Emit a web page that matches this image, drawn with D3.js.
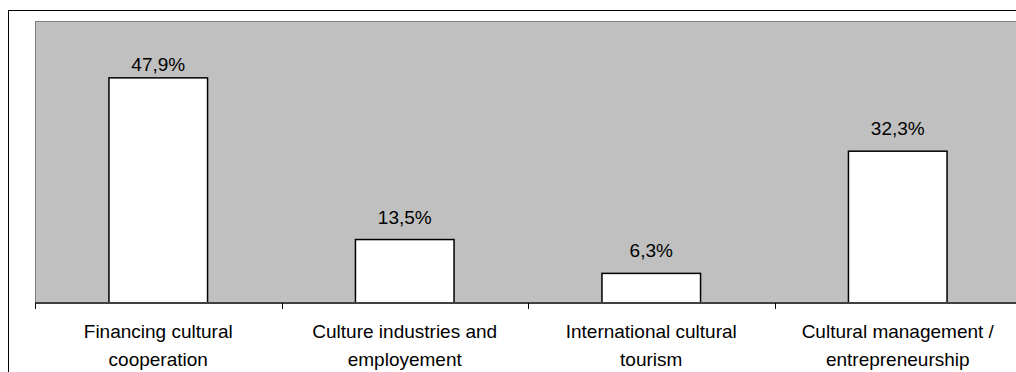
<!DOCTYPE html>
<html>
<head>
<meta charset="utf-8">
<script src="https://cdn.jsdelivr.net/npm/d3@7/dist/d3.min.js"></script>
<style>
  html, body { margin: 0; padding: 0; background: #fff; }
  svg { display: block; }
  text { font-family: "Liberation Sans", Arial, sans-serif; fill: #000; }
</style>
</head>
<body>
<svg id="chart" width="1016" height="372"></svg>
<script>
// Training topics and share of respondents (%)
const categories = [
  ["Financing cultural", "cooperation"],
  ["Culture industries and", "employement"],
  ["International cultural", "tourism"],
  ["Cultural management /", "entrepreneurship"]
];
const values = [47.9, 13.5, 6.3, 32.3];
const valueLabels = ["47,9%", "13,5%", "6,3%", "32,3%"];

const W = 1016, H = 372;
const plot = { left: 35, top: 21, right: 1021, bottom: 303 };

const svg = d3.select("#chart");

// outer chart frame
svg.append("rect")
  .attr("x", 8.5).attr("y", 10.5)
  .attr("width", W + 10).attr("height", H + 10)
  .attr("fill", "#fff").attr("stroke", "#000").attr("stroke-width", 1);

const keys = categories.map(c => c.join(" "));

const x = d3.scaleBand()
  .domain(keys)
  .range([plot.left, plot.right])
  .paddingInner(0.6)
  .paddingOuter(0.3);

const y = d3.scaleLinear()
  .domain([0, 60])
  .range([plot.bottom, plot.top]);

// plot background
svg.append("rect")
  .attr("x", plot.left + 0.5).attr("y", plot.top + 0.5)
  .attr("width", plot.right - plot.left).attr("height", plot.bottom - plot.top)
  .attr("fill", "#c0c0c0").attr("stroke", "#808080").attr("stroke-width", 1);

// bars
svg.append("g").selectAll("rect")
  .data(values)
  .join("rect")
  .attr("x", (d, i) => x(keys[i]))
  .attr("y", d => y(d))
  .attr("width", x.bandwidth())
  .attr("height", d => y(0) - y(d))
  .attr("fill", "#fff")
  .attr("stroke", "#000")
  .attr("stroke-width", 1.5);

// value labels
svg.append("g").selectAll("text")
  .data(values)
  .join("text")
  .attr("x", (d, i) => x(keys[i]) + x.bandwidth() / 2)
  .attr("y", (d, i) => y(d) - (i === 0 ? 7 : 16))
  .attr("text-anchor", "middle")
  .attr("font-size", 19)
  .text((d, i) => valueLabels[i]);

// category axis with ticks between bands
const axisG = svg.append("g");
axisG.append("line")
  .attr("x1", plot.left).attr("x2", plot.right)
  .attr("y1", plot.bottom).attr("y2", plot.bottom)
  .attr("stroke", "#404040").attr("stroke-width", 2);

const step = x.step();
const tickXs = d3.range(keys.length + 1).map(i => x(keys[0]) - x.paddingOuter() * step + i * step);
axisG.selectAll("line.tick")
  .data(tickXs)
  .join("line")
  .attr("class", "tick")
  .attr("x1", d => Math.round(d) + 0.5).attr("x2", d => Math.round(d) + 0.5)
  .attr("y1", plot.bottom).attr("y2", plot.bottom + 6)
  .attr("stroke", "#000").attr("stroke-width", 1);

const labels = axisG.selectAll("text.cat")
  .data(categories)
  .join("text")
  .attr("class", "cat")
  .attr("x", (d, i) => x(keys[i]) + x.bandwidth() / 2)
  .attr("y", 338)
  .attr("text-anchor", "middle")
  .attr("font-size", 19);

labels.selectAll("tspan")
  .data(d => d)
  .join("tspan")
  .attr("x", function () { return d3.select(this.parentNode).attr("x"); })
  .attr("dy", (d, i) => i === 0 ? 0 : 28)
  .text(d => d);
</script>
</body>
</html>
